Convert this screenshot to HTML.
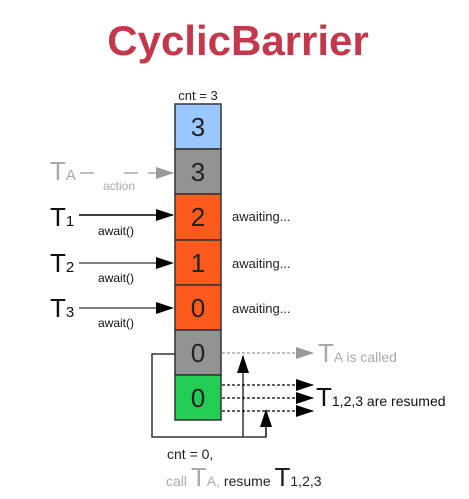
<!DOCTYPE html>
<html><head><meta charset="utf-8"><style>
html,body{margin:0;padding:0;background:#fff;}
svg{display:block;font-family:"Liberation Sans",sans-serif;}
</style></head><body>
<svg width="469" height="499" viewBox="0 0 469 499">
<defs>
<marker id="ab" markerWidth="10" markerHeight="8" refX="9" refY="4" orient="auto" markerUnits="userSpaceOnUse"><path d="M0,0 L10,4 L0,8 Z" fill="#000"/></marker>
<marker id="abig" markerWidth="18" markerHeight="12" refX="17" refY="6" orient="auto" markerUnits="userSpaceOnUse"><path d="M0,0 L18,6 L0,12 Z" fill="#000"/></marker>
<marker id="ag" markerWidth="18" markerHeight="12" refX="17" refY="6" orient="auto" markerUnits="userSpaceOnUse"><path d="M0,0 L18,6 L0,12 Z" fill="#999"/></marker>
</defs>
<text x="238" y="55" text-anchor="middle" font-size="42" font-weight="bold" fill="#c3394b" font-family="'Liberation Sans','Noto Sans CJK SC',sans-serif">CyclicBarrier</text>
<text x="198" y="100" text-anchor="middle" font-size="13" fill="#222">cnt = 3</text>
<g stroke="#333" stroke-width="1.5" font-size="26" text-anchor="middle">
<rect x="175" y="104" width="46" height="45" fill="#99c7ff"/>
<rect x="175" y="149" width="46" height="45" fill="#939393"/>
<rect x="175" y="194" width="46" height="46" fill="#ff5a1e"/>
<rect x="175" y="240" width="46" height="45" fill="#ff5a1e"/>
<rect x="175" y="285" width="46" height="45" fill="#ff5a1e"/>
<rect x="175" y="330" width="46" height="45" fill="#939393"/>
<rect x="175" y="375" width="46" height="45" fill="#22cc55"/>
<g stroke="none" fill="#222">
<text x="198" y="136">3</text><text x="198" y="181">3</text><text x="198" y="226">2</text>
<text x="198" y="272">1</text><text x="198" y="317">0</text><text x="198" y="362">0</text><text x="198" y="407">0</text>
</g></g>
<g>
<text x="50" y="180" font-size="26" fill="#aaa">T<tspan font-size="15">A</tspan></text>
<line x1="80" y1="173" x2="94" y2="173" stroke="#aaa" stroke-width="1.5"/>
<line x1="124" y1="173" x2="173" y2="173" stroke="#aaa" stroke-width="1.5" stroke-dasharray="14,10" marker-end="url(#ag)"/>
<text x="103" y="190" font-size="12" fill="#aaa">action</text>
</g>
<g font-size="26" fill="#111">
<text x="50" y="226">T<tspan font-size="15">1</tspan></text>
<line x1="79" y1="215" x2="173" y2="215" stroke="#000" stroke-width="1.5" marker-end="url(#abig)"/>
<text x="98" y="235" font-size="12">await()</text>
<text x="50" y="272">T<tspan font-size="15">2</tspan></text>
<line x1="79" y1="263" x2="173" y2="263" stroke="#000" stroke-width="1" marker-end="url(#abig)"/>
<text x="98" y="282" font-size="12">await()</text>
<text x="50" y="317">T<tspan font-size="15">3</tspan></text>
<line x1="79" y1="308" x2="173" y2="308" stroke="#000" stroke-width="1" marker-end="url(#abig)"/>
<text x="98" y="327" font-size="12">await()</text>
</g>
<g font-size="13" fill="#222">
<text x="232" y="221">awaiting...</text><text x="232" y="268">awaiting...</text><text x="232" y="313">awaiting...</text>
</g>
<g fill="none" stroke="#333" stroke-width="1.5">
<polyline points="175,354 152,354 152,437 266,437 266,412"/>
<line x1="243" y1="437" x2="243" y2="356" marker-end="url(#abig)"/>
<line x1="266" y1="437" x2="266" y2="410" marker-end="url(#abig)"/>
</g>
<g stroke-dasharray="3,2" stroke-width="1.2">
<line x1="222" y1="353" x2="313" y2="353" stroke="#999" marker-end="url(#ag)"/>
<line x1="222" y1="385" x2="313" y2="385" stroke="#000" marker-end="url(#abig)"/>
<line x1="222" y1="398" x2="313" y2="398" stroke="#000" marker-end="url(#abig)"/>
<line x1="222" y1="411" x2="313" y2="411" stroke="#000" marker-end="url(#abig)"/>
</g>
<text x="318" y="362" font-size="26" fill="#aaa">T<tspan font-size="14">A is called</tspan></text>
<text x="316" y="406" font-size="26" fill="#111">T<tspan font-size="14">1,2,3 are resumed</tspan></text>
<text x="167" y="459" font-size="14" fill="#222">cnt = 0,</text>
<text x="166" y="486" font-size="14" fill="#222"><tspan fill="#aaa">call </tspan><tspan fill="#aaa" font-size="26">T</tspan><tspan fill="#aaa">A, </tspan>resume <tspan font-size="26">T</tspan>1,2,3</text>
</svg>
</body></html>
